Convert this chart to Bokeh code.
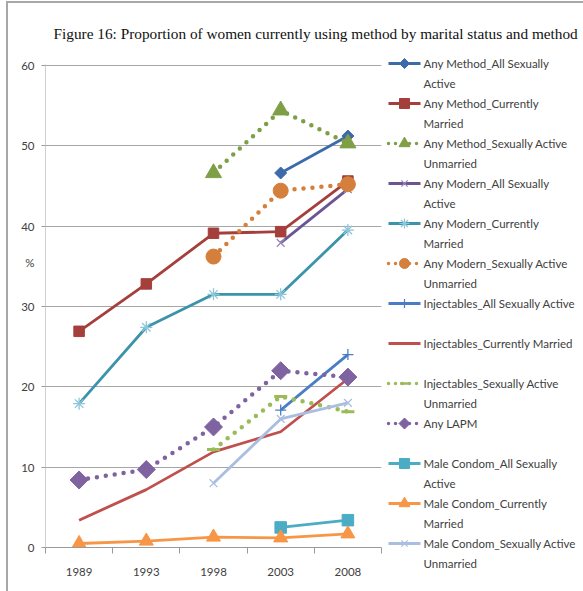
import math
from bokeh.plotting import figure
from bokeh.layouts import column, row
from bokeh.models import Range1d, FixedTicker, Label, ColumnDataSource
from bokeh.core.properties import value
from bokeh.embed import file_html
from bokeh.resources import INLINE

NA = float("nan")

title_text = "Figure 16: Proportion of women currently using method by marital status and method"

# Survey years (categories on the x axis)
years = ["1989", "1993", "1998", "2003", "2008"]
y_ticks = [0, 10, 20, 30, 40, 50, 60]
y_unit_label = "%"
y_unit_at = 35.5

# Percent of women currently using each method
any_method_all = [NA, NA, NA, 46.6, 51.2]
any_method_married = [26.9, 32.8, 39.1, 39.3, 45.6]
any_method_unmarried = [NA, NA, 46.6, 54.4, 50.3]
any_modern_all = [NA, NA, NA, 37.9, 44.6]
any_modern_married = [17.9, 27.4, 31.5, 31.5, 39.5]
any_modern_unmarried = [NA, NA, 36.2, 44.4, 45.2]
inj_all = [NA, NA, NA, 17.1, 24.0]
inj_married = [3.4, 7.2, 11.9, 14.4, 21.0]
inj_unmarried = [NA, NA, 12.2, 18.8, 16.9]
any_lapm = [8.4, 9.7, 15.0, 22.0, 21.2]
condom_all = [NA, NA, NA, 2.5, 3.4]
condom_married = [0.5, 0.8, 1.3, 1.2, 1.7]
condom_unmarried = [NA, NA, 8.0, 16.0, 18.0]

# (legend lines, values, line color, dotted, marker, marker size, legend marker size, marker color)
series = [
    (["Any Method_All Sexually", "Active"], any_method_all, "#3D6BAA", False, "diamond", 12, 10, "#3D6BAA"),
    (["Any Method_Currently", "Married"], any_method_married, "#A53F3C", False, "square", 10.5, 10, "#A53F3C"),
    (["Any Method_Sexually Active", "Unmarried"], any_method_unmarried, "#7E9F45", True, "triangle", 16, 11, "#7E9F45"),
    (["Any Modern_All Sexually", "Active"], any_modern_all, "#6A5491", False, "x", 11, 9, "#9A88BA"),
    (["Any Modern_Currently", "Married"], any_modern_married, "#3B94AA", False, "asterisk", 12, 10, "#8CC6D8"),
    (["Any Modern_Sexually Active", "Unmarried"], any_modern_unmarried, "#D47F3B", True, "circle", 15, 10, "#D47F3B"),
    (["Injectables_All Sexually Active"], inj_all, "#4A7DC6", False, "cross", 11, 9, "#4A7DC6"),
    (["Injectables_Currently Married"], inj_married, "#C0504D", False, None, 0, 0, None),
    (["Injectables_Sexually Active", "Unmarried"], inj_unmarried, "#9BBB59", True, "dash", 13, 9, "#9BBB59"),
    (["Any LAPM"], any_lapm, "#7F63A1", True, "diamond", 18, 11, "#7F63A1"),
    (["Male Condom_All Sexually", "Active"], condom_all, "#4BACC6", False, "square", 11.5, 10, "#4BACC6"),
    (["Male Condom_Currently", "Married"], condom_married, "#F79646", False, "triangle", 14, 11, "#F79646"),
    (["Male Condom_Sexually Active", "Unmarried"], condom_unmarried, "#A9BEE0", False, "x", 11, 9, "#A9BEE0"),
]

xs = list(range(len(years)))
LINE_MARKERS = ("x", "asterisk", "cross", "dash")


def draw_marker(fig, src, marker, size, mcolor, thin=1.3, thick=3):
    if marker in LINE_MARKERS:
        fig.scatter("x", "y", source=src, marker=marker, size=size,
                    line_color=mcolor, fill_color=None,
                    line_width=thick if marker == "dash" else thin)
    elif marker == "diamond":
        # square diamond: a square turned by 45 degrees, size given as its diagonal
        fig.scatter("x", "y", source=src, marker="square", size=size / math.sqrt(2),
                    angle=math.pi / 4, fill_color=mcolor, line_color=mcolor)
    else:
        fig.scatter("x", "y", source=src, marker=marker, size=size,
                    fill_color=mcolor, line_color=mcolor)


def draw_series(fig, src, color, dotted, marker, size, mcolor):
    if dotted:
        fig.line("x", "y", source=src, line_color=color, line_width=4.5,
                 line_dash="0 9", line_cap="round", line_join="round")
    else:
        fig.line("x", "y", source=src, line_color=color, line_width=2.8,
                 line_join="round")
    if marker:
        draw_marker(fig, src, marker, size, mcolor)


def bare(fig):
    fig.outline_line_color = None
    fig.background_fill_color = "white"
    fig.border_fill_color = "white"
    fig.xgrid.grid_line_color = None
    fig.ygrid.grid_line_color = None


def unaligned(fig):
    # each figure keeps its own frame instead of lining up with its neighbours
    if "frame_align" in fig.properties():
        fig.frame_align = False


# ---- title strip ----
head = figure(width=575, height=47, output_backend="svg", toolbar_location=None,
              x_axis_type=None, y_axis_type=None, min_border=0,
              x_range=Range1d(0, 575), y_range=Range1d(0, 47))
bare(head)
unaligned(head)
head.add_layout(Label(x=45, y=17, x_units="screen", y_units="screen", text=title_text,
                      text_font="Liberation Serif", text_font_size="15.3px",
                      text_color="#111111", text_baseline="alphabetic"))

# ---- line chart ----
p = figure(width=376, height=541, output_backend="svg", toolbar_location=None,
           x_range=Range1d(-0.5, len(years) - 0.5), y_range=Range1d(0, 60.1),
           min_border_left=37, min_border_right=3, min_border_top=14,
           min_border_bottom=44)
p.outline_line_color = None
p.background_fill_color = "white"
p.border_fill_color = "white"
unaligned(p)

# x axis: year labels at category centers, tick marks between categories
p.xaxis.ticker = FixedTicker(ticks=xs, minor_ticks=[i - 0.5 for i in range(len(years) + 1)])
p.xaxis.major_label_overrides = {i: y for i, y in enumerate(years)}
p.xaxis.major_tick_out = 0
p.xaxis.major_tick_in = 0
p.xaxis.minor_tick_out = 6
p.xaxis.minor_tick_in = 0
p.xaxis.minor_tick_line_color = "#9a9a9a"
p.xaxis.axis_line_color = "#9a9a9a"
p.xaxis.major_label_standoff = 14

# y axis: value ticks plus the unit label; visible tick marks are drawn as minor ticks
p.yaxis.ticker = FixedTicker(ticks=sorted(y_ticks + [y_unit_at]), minor_ticks=y_ticks)
p.yaxis.major_label_overrides = {y_unit_at: y_unit_label}
p.yaxis.major_tick_out = 0
p.yaxis.major_tick_in = 0
p.yaxis.minor_tick_out = 4
p.yaxis.minor_tick_in = 0
p.yaxis.minor_tick_line_color = "#9a9a9a"
p.yaxis.axis_line_color = "#cfcfcf"
p.yaxis.major_label_standoff = 7
p.ygrid.ticker = FixedTicker(ticks=y_ticks)

for ax in (p.xaxis, p.yaxis):
    ax.major_label_text_font = "Lato"
    ax.major_label_text_font_size = "11.5px"
    ax.major_label_text_color = "#404040"

p.xgrid.grid_line_color = None
p.ygrid.grid_line_color = "#a6a6a6"
p.ygrid.grid_line_width = 1

for labels, vals, color, dotted, marker, msize, lsize, mcolor in series:
    draw_series(p, ColumnDataSource(dict(x=xs, y=vals)), color, dotted, marker, msize, mcolor)

# ---- legend panel: one 40px slot per series, swatch aligned with the first text line ----
LW, LH = 199, 541
leg = figure(width=LW, height=LH, output_backend="svg", toolbar_location=None,
             x_axis_type=None, y_axis_type=None, min_border=0,
             x_range=Range1d(0, LW), y_range=Range1d(LH, 0))
bare(leg)
unaligned(leg)

sw_x0, sw_x1, txt_x, row0, slot, line_gap = 4, 36, 39, 13, 40, 19.5
tx, ty, tt = [], [], []
for i, (labels, vals, color, dotted, marker, msize, lsize, mcolor) in enumerate(series):
    yrow = row0 + slot * i
    sw = ColumnDataSource(dict(x=[sw_x0, sw_x1], y=[yrow, yrow]))
    if dotted:
        leg.line("x", "y", source=sw, line_color=color, line_width=3.5,
                 line_dash="0 7", line_cap="round")
    else:
        leg.line("x", "y", source=sw, line_color=color, line_width=2.8)
    if marker:
        mk = ColumnDataSource(dict(x=[(sw_x0 + sw_x1) / 2], y=[yrow]))
        draw_marker(leg, mk, marker, lsize, mcolor, thin=1.2, thick=2.5)
    for k, t in enumerate(labels):
        tx.append(txt_x)
        ty.append(yrow + k * line_gap)
        tt.append(t)

leg.text(x="x", y="y", text="t", source=ColumnDataSource(dict(x=tx, y=ty, t=tt)),
         text_font=value("Lato"), text_font_size="11.5px", text_color="#404040",
         text_baseline="middle", text_align="left")

layout = column(head, row(p, leg), spacing=0,
                styles={"margin-left": "6px", "margin-top": "1px",
                        "border-left": "2px solid #a8a8a8",
                        "border-top": "2px solid #a8a8a8"})

open("out.html", "w").write(file_html(layout, INLINE))
